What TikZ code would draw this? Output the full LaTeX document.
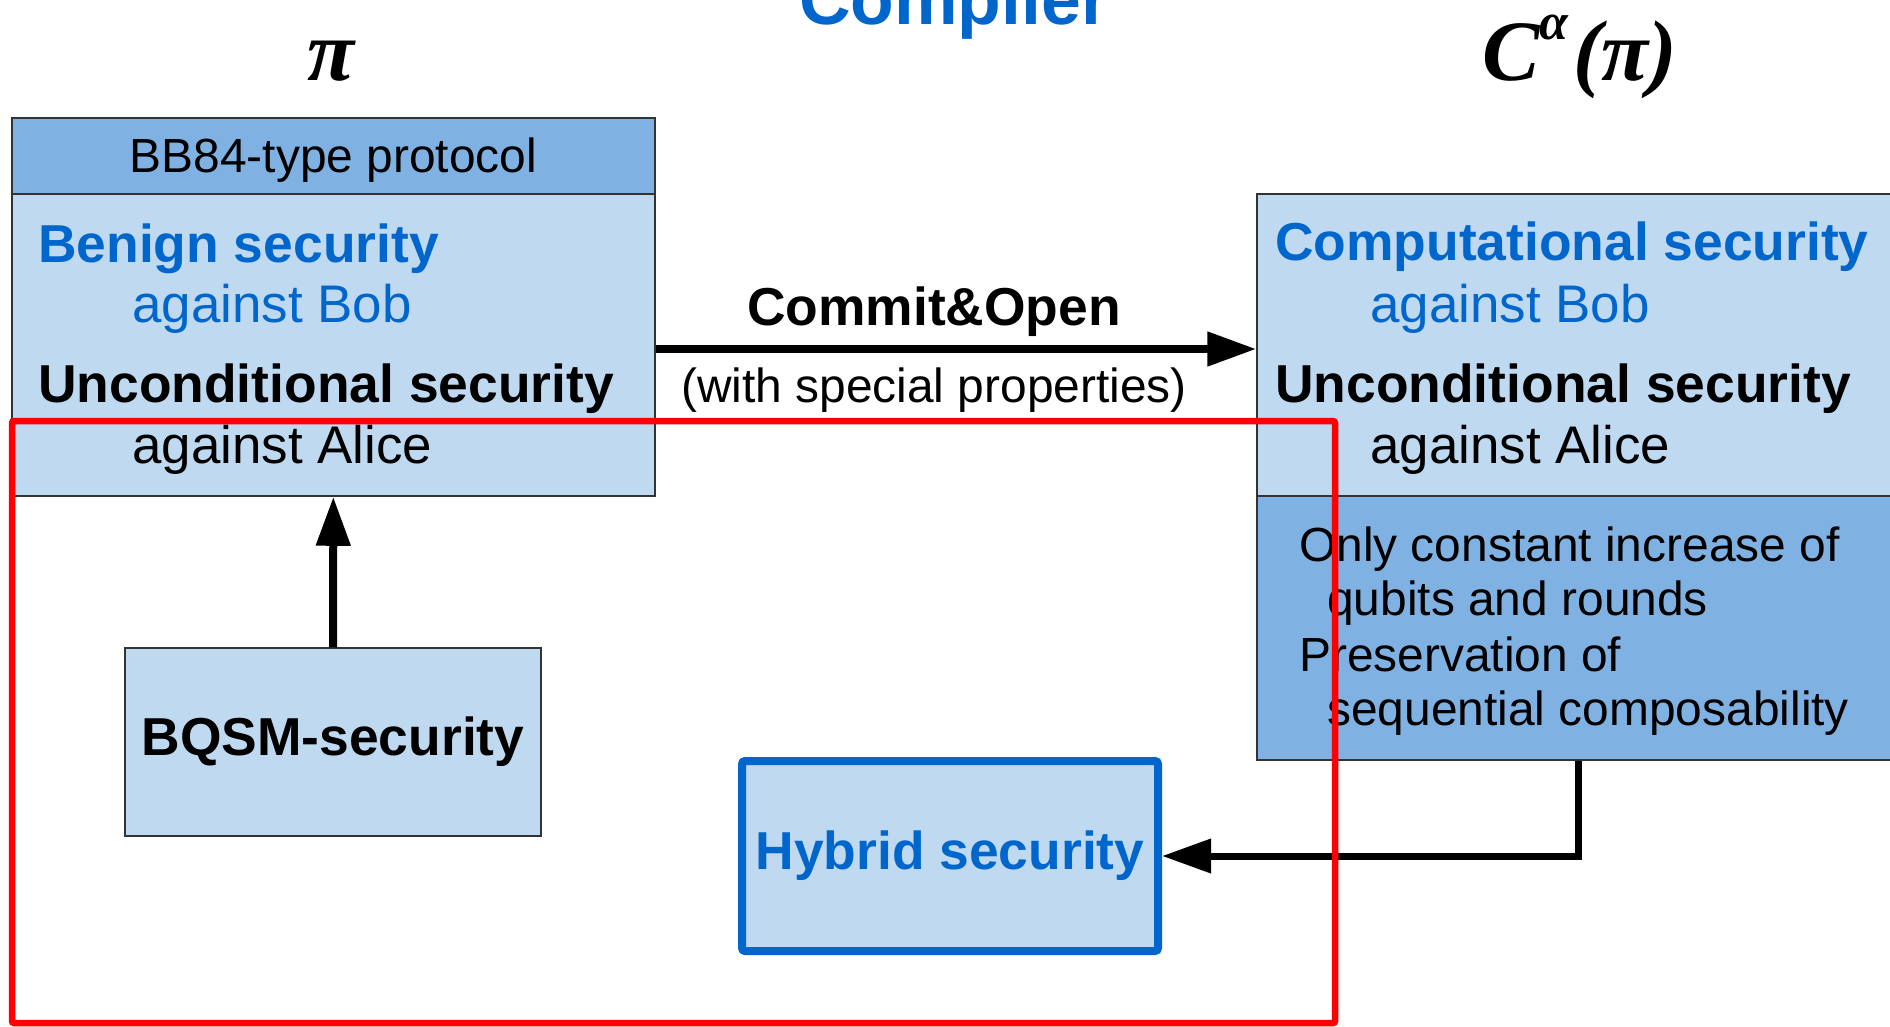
\documentclass[tikz,border=0pt]{standalone}
\usepackage{fontspec}
\setmainfont{Liberation Sans}
\newfontfamily\timesfont{Liberation Serif}
\usetikzlibrary{arrows.meta}

\definecolor{protoblue}{HTML}{0066CC}
\definecolor{headfill}{HTML}{7FB1E3}
\definecolor{bodyfill}{HTML}{BFD9F1}

\begin{document}
\begin{tikzpicture}[x=1pt, y=-1pt, >={Triangle[length=49pt, width=33pt]},
		box/.style={rectangle, draw=black!80, line width=1.5pt, inner sep=0pt},
		line/.style={anchor=base west, inner sep=0pt},
		bigbold/.style={font=\fontsize{53.4}{60}\selectfont\bfseries},
		bigreg/.style={font=\fontsize{52.9}{60}\selectfont},
		smallreg/.style={font=\fontsize{47.9}{55}\selectfont},
		titlemath/.style={font=\fontsize{86}{90}\selectfont\timesfont\bfseries\itshape}]
		\clip (0,0) rectangle (1890,1026);

		% titles
		\node[anchor=base, inner sep=0pt, text=protoblue, font=\fontsize{71.5}{75}\selectfont\bfseries] (compiler) at (954,24) {Compiler};
		\node[anchor=base, inner sep=0pt, titlemath] (piTitle) at (331,80) {π};
		\node[anchor=base west, inner sep=0pt, titlemath] (cTitle) at (1482,80) {C\raisebox{41pt}{\fontsize{52}{52}\selectfont α}\kern5pt(π)};

		% protocol pi
		\node[box, fill=headfill, minimum width=643pt, minimum height=76pt] (bbHead) at (333.5,156) {};
		\node[anchor=base, inner sep=0pt, smallreg] (bbLabel) at (333.5,172) {BB84-type protocol};
		\node[box, fill=bodyfill, minimum width=643pt, minimum height=302pt] (piBody) at (333.5,345) {};
		\node[line, bigbold, text=protoblue] (piBenign) at (38,262) {Benign security};
		\node[line, bigreg, text=protoblue] (piBob) at (132,322) {against Bob};
		\node[line, bigbold] (piUncond) at (38,402) {Unconditional security};
		\node[line, bigreg] (piAlice) at (132,463) {against Alice};

		% compiled protocol
		\node[box, fill=bodyfill, minimum width=643pt, minimum height=302pt] (cBody) at (1578.5,345) {};
		\node[box, fill=headfill, minimum width=643pt, minimum height=264pt] (cNotes) at (1578.5,628) {};
		\node[line, bigbold, text=protoblue] (cComp) at (1275,260) {Computational security};
		\node[line, bigreg, text=protoblue] (cBob) at (1370,322) {against Bob};
		\node[line, bigbold] (cUncond) at (1275,402) {Unconditional security};
		\node[line, bigreg] (cAlice) at (1370,463) {against Alice};
		\node[line, smallreg] (cNote1) at (1299,561) {Only constant increase of};
		\node[line, smallreg] (cNote2) at (1327,615) {qubits and rounds};
		\node[line, smallreg] (cNote3) at (1299,671) {Preservation of};
		\node[line, smallreg] (cNote4) at (1327,725) {sequential composability};

		% lower boxes
		\node[box, fill=bodyfill, minimum width=416pt, minimum height=188pt, bigbold] (bqsm) at (333,742) {BQSM-security};
		\node[rectangle, draw=protoblue, line width=8pt, rounded corners=3pt, fill=bodyfill, inner sep=0pt,
			minimum width=416pt, minimum height=190pt, text=protoblue, bigbold] (hybrid) at (950,856) {Hybrid security};

		% arrows
		\draw[->, line width=8pt] ([yshift=-4pt]piBody.east) -- ([yshift=-4pt]cBody.west);
		\node[anchor=base, inner sep=0pt, bigbold] (commitLabel) at (934,325) {Commit\&Open};
		\node[anchor=base, inner sep=0pt, smallreg] (commitNote) at (934,402) {(with special properties)};
		\draw[->, line width=8pt] (bqsm) -- (piBody);
		\draw[->, line width=7pt] (cNotes.south) |- (hybrid.east);

		% highlighted region
		\draw[red, line width=6.5pt, rounded corners=2pt] (12,421) rectangle (1335,1023);
	\end{tikzpicture}
\end{document}
